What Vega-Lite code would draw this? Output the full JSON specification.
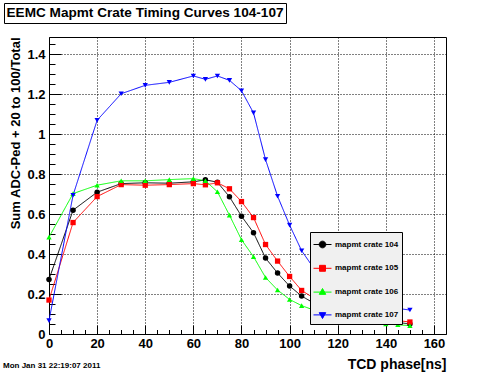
{
  "$schema": "https://vega.github.io/schema/vega-lite/v6.json",
  "width": 397,
  "height": 297,
  "autosize": "none",
  "padding": {"left": 49, "top": 37, "right": 50, "bottom": 38},
  "background": "white",
  "data": {
    "values": [
      {"crate": "mapmt crate 104", "phase": 0, "value": 0.273},
      {"crate": "mapmt crate 104", "phase": 10, "value": 0.62},
      {"crate": "mapmt crate 104", "phase": 20, "value": 0.71},
      {"crate": "mapmt crate 104", "phase": 30, "value": 0.753},
      {"crate": "mapmt crate 104", "phase": 40, "value": 0.757},
      {"crate": "mapmt crate 104", "phase": 50, "value": 0.755},
      {"crate": "mapmt crate 104", "phase": 60, "value": 0.762},
      {"crate": "mapmt crate 104", "phase": 65, "value": 0.772},
      {"crate": "mapmt crate 104", "phase": 70, "value": 0.76},
      {"crate": "mapmt crate 104", "phase": 75, "value": 0.687},
      {"crate": "mapmt crate 104", "phase": 80, "value": 0.59},
      {"crate": "mapmt crate 104", "phase": 85, "value": 0.507},
      {"crate": "mapmt crate 104", "phase": 90, "value": 0.38},
      {"crate": "mapmt crate 104", "phase": 95, "value": 0.305},
      {"crate": "mapmt crate 104", "phase": 100, "value": 0.24},
      {"crate": "mapmt crate 104", "phase": 105, "value": 0.19},
      {"crate": "mapmt crate 104", "phase": 110, "value": 0.155},
      {"crate": "mapmt crate 104", "phase": 115, "value": 0.13},
      {"crate": "mapmt crate 104", "phase": 120, "value": 0.11},
      {"crate": "mapmt crate 104", "phase": 125, "value": 0.095},
      {"crate": "mapmt crate 104", "phase": 130, "value": 0.083},
      {"crate": "mapmt crate 104", "phase": 135, "value": 0.073},
      {"crate": "mapmt crate 104", "phase": 140, "value": 0.065},
      {"crate": "mapmt crate 104", "phase": 145, "value": 0.058},
      {"crate": "mapmt crate 104", "phase": 150, "value": 0.05},
      {"crate": "mapmt crate 105", "phase": 0, "value": 0.17},
      {"crate": "mapmt crate 105", "phase": 10, "value": 0.558},
      {"crate": "mapmt crate 105", "phase": 20, "value": 0.688},
      {"crate": "mapmt crate 105", "phase": 30, "value": 0.748},
      {"crate": "mapmt crate 105", "phase": 40, "value": 0.745},
      {"crate": "mapmt crate 105", "phase": 50, "value": 0.748},
      {"crate": "mapmt crate 105", "phase": 60, "value": 0.753},
      {"crate": "mapmt crate 105", "phase": 65, "value": 0.747},
      {"crate": "mapmt crate 105", "phase": 70, "value": 0.757},
      {"crate": "mapmt crate 105", "phase": 75, "value": 0.727},
      {"crate": "mapmt crate 105", "phase": 80, "value": 0.663},
      {"crate": "mapmt crate 105", "phase": 85, "value": 0.583},
      {"crate": "mapmt crate 105", "phase": 90, "value": 0.448},
      {"crate": "mapmt crate 105", "phase": 95, "value": 0.365},
      {"crate": "mapmt crate 105", "phase": 100, "value": 0.288},
      {"crate": "mapmt crate 105", "phase": 105, "value": 0.218},
      {"crate": "mapmt crate 105", "phase": 110, "value": 0.18},
      {"crate": "mapmt crate 105", "phase": 115, "value": 0.15},
      {"crate": "mapmt crate 105", "phase": 120, "value": 0.125},
      {"crate": "mapmt crate 105", "phase": 125, "value": 0.107},
      {"crate": "mapmt crate 105", "phase": 130, "value": 0.093},
      {"crate": "mapmt crate 105", "phase": 135, "value": 0.082},
      {"crate": "mapmt crate 105", "phase": 140, "value": 0.074},
      {"crate": "mapmt crate 105", "phase": 145, "value": 0.067},
      {"crate": "mapmt crate 105", "phase": 150, "value": 0.06},
      {"crate": "mapmt crate 106", "phase": 0, "value": 0.485},
      {"crate": "mapmt crate 106", "phase": 10, "value": 0.703},
      {"crate": "mapmt crate 106", "phase": 20, "value": 0.745},
      {"crate": "mapmt crate 106", "phase": 30, "value": 0.767},
      {"crate": "mapmt crate 106", "phase": 40, "value": 0.767},
      {"crate": "mapmt crate 106", "phase": 50, "value": 0.773},
      {"crate": "mapmt crate 106", "phase": 60, "value": 0.778},
      {"crate": "mapmt crate 106", "phase": 65, "value": 0.767},
      {"crate": "mapmt crate 106", "phase": 70, "value": 0.712},
      {"crate": "mapmt crate 106", "phase": 75, "value": 0.595},
      {"crate": "mapmt crate 106", "phase": 80, "value": 0.472},
      {"crate": "mapmt crate 106", "phase": 85, "value": 0.387},
      {"crate": "mapmt crate 106", "phase": 90, "value": 0.283},
      {"crate": "mapmt crate 106", "phase": 95, "value": 0.22},
      {"crate": "mapmt crate 106", "phase": 100, "value": 0.173},
      {"crate": "mapmt crate 106", "phase": 105, "value": 0.142},
      {"crate": "mapmt crate 106", "phase": 110, "value": 0.12},
      {"crate": "mapmt crate 106", "phase": 115, "value": 0.1},
      {"crate": "mapmt crate 106", "phase": 120, "value": 0.085},
      {"crate": "mapmt crate 106", "phase": 125, "value": 0.073},
      {"crate": "mapmt crate 106", "phase": 130, "value": 0.063},
      {"crate": "mapmt crate 106", "phase": 135, "value": 0.056},
      {"crate": "mapmt crate 106", "phase": 140, "value": 0.05},
      {"crate": "mapmt crate 106", "phase": 145, "value": 0.046},
      {"crate": "mapmt crate 106", "phase": 150, "value": 0.042},
      {"crate": "mapmt crate 107", "phase": 0, "value": 0.067},
      {"crate": "mapmt crate 107", "phase": 10, "value": 0.695},
      {"crate": "mapmt crate 107", "phase": 20, "value": 1.07},
      {"crate": "mapmt crate 107", "phase": 30, "value": 1.203},
      {"crate": "mapmt crate 107", "phase": 40, "value": 1.245},
      {"crate": "mapmt crate 107", "phase": 50, "value": 1.26},
      {"crate": "mapmt crate 107", "phase": 60, "value": 1.292},
      {"crate": "mapmt crate 107", "phase": 65, "value": 1.275},
      {"crate": "mapmt crate 107", "phase": 70, "value": 1.292},
      {"crate": "mapmt crate 107", "phase": 75, "value": 1.27},
      {"crate": "mapmt crate 107", "phase": 80, "value": 1.218},
      {"crate": "mapmt crate 107", "phase": 85, "value": 1.107},
      {"crate": "mapmt crate 107", "phase": 90, "value": 0.873},
      {"crate": "mapmt crate 107", "phase": 95, "value": 0.69},
      {"crate": "mapmt crate 107", "phase": 100, "value": 0.545},
      {"crate": "mapmt crate 107", "phase": 105, "value": 0.417},
      {"crate": "mapmt crate 107", "phase": 110, "value": 0.33},
      {"crate": "mapmt crate 107", "phase": 115, "value": 0.27},
      {"crate": "mapmt crate 107", "phase": 120, "value": 0.225},
      {"crate": "mapmt crate 107", "phase": 125, "value": 0.19},
      {"crate": "mapmt crate 107", "phase": 130, "value": 0.165},
      {"crate": "mapmt crate 107", "phase": 135, "value": 0.15},
      {"crate": "mapmt crate 107", "phase": 140, "value": 0.138},
      {"crate": "mapmt crate 107", "phase": 145, "value": 0.128},
      {"crate": "mapmt crate 107", "phase": 150, "value": 0.12}
    ]
  },
  "encoding": {
    "x": {
      "field": "phase",
      "type": "quantitative",
      "scale": {"domain": [0, 165], "nice": false, "zero": false},
      "axis": {
        "title": "TCD phase[ns]",
        "titleFontSize": 14,
        "titleAnchor": "end",
        "titlePadding": 3,
        "values": [0,5,10,15,20,25,30,35,40,45,50,55,60,65,70,75,80,85,90,95,100,105,110,115,120,125,130,135,140,145,150,155,160],
        "labelExpr": "datum.value % 20 == 0 ? datum.label : ''",
        "gridOpacity": {"condition": {"test": "datum.value % 20 == 0", "value": 1}, "value": 0},
        "tickSize": {"condition": {"test": "datum.value % 20 == 0", "value": -9}, "value": -4.5},
        "labelPadding": 12
      }
    },
    "y": {
      "field": "value",
      "type": "quantitative",
      "scale": {"domain": [0, 1.487], "nice": false, "zero": false},
      "axis": {
        "title": "Sum ADC-Ped + 20 to 100/Total",
        "titleFontSize": 13,
        "titleAnchor": "end",
        "titlePadding": 4,
        "values": [0,0.05,0.1,0.15,0.2,0.25,0.3,0.35,0.4,0.45,0.5,0.55,0.6,0.65,0.7,0.75,0.8,0.85,0.9,0.95,1,1.05,1.1,1.15,1.2,1.25,1.3,1.35,1.4,1.45],
        "labelExpr": "round(datum.value*100) % 20 == 0 ? format(datum.value, '~g') : ''",
        "gridOpacity": {"condition": {"test": "round(datum.value*100) % 20 == 0", "value": 1}, "value": 0},
        "tickSize": {"condition": {"test": "round(datum.value*100) % 20 == 0", "value": -12}, "value": -6},
        "labelPadding": 16
      }
    },
    "color": {
      "field": "crate",
      "type": "nominal",
      "scale": {
        "domain": ["mapmt crate 104", "mapmt crate 105", "mapmt crate 106", "mapmt crate 107"],
        "range": ["#000000", "#ff0000", "#00ff00", "#0000ff"]
      },
      "legend": {
        "orient": "none",
        "legendX": 261,
        "legendY": 195,
        "title": null,
        "fillColor": "#f0f0f0",
        "strokeColor": "black",
        "padding": 3,
        "rowPadding": 8.8,
        "labelFont": "Liberation Sans",
        "labelFontSize": 8,
        "labelFontWeight": "bold",
        "labelColor": "black",
        "labelOffset": 3,
        "symbolSize": 324,
        "symbolStrokeWidth": 1,
        "labelExpr": "datum.label + '        '",
        "encode": {
          "symbols": {
            "update": {
              "shape": {"signal": "datum.value == 'mapmt crate 104' ? 'M-1,0H1M0.37,0A0.37,0.37,0,1,1,-0.37,0A0.37,0.37,0,1,1,0.37,0Z' : datum.value == 'mapmt crate 105' ? 'M-1,0H1M-0.33,-0.33H0.33V0.33H-0.33Z' : datum.value == 'mapmt crate 106' ? 'M-1,0H1M0,-0.4L0.36,0.25H-0.36Z' : 'M-1,0H1M0,0.4L0.36,-0.25H-0.36Z'"},
              "fill": {"signal": "scale('color', datum.value)"},
              "stroke": {"signal": "scale('color', datum.value)"},
              "strokeWidth": {"value": 1},
              "size": {"value": 324},
              "opacity": {"value": 1}
            }
          }
        }
      }
    }
  },
  "layer": [
    {
      "mark": {"type": "line", "strokeWidth": 1},
      "encoding": {
        "strokeDash": {
          "datum": "all",
          "type": "nominal",
          "scale": {"range": [[1, 0]]},
          "legend": {
            "orient": "none",
            "legendX": -46,
            "legendY": 325,
            "title": "Mon Jan 31 22:19:07 2011",
            "titleFont": "Liberation Sans",
            "titleFontSize": 8,
            "titleFontWeight": "bold",
            "titleColor": "black",
            "titlePadding": 0,
            "titleLimit": 300,
            "padding": 0,
            "labelExpr": "''",
            "labelFontSize": 1,
            "symbolOpacity": 0,
            "symbolStrokeWidth": 0,
            "symbolSize": 1
          }
        },
        "strokeWidth": {
          "datum": "one",
          "type": "ordinal",
          "scale": {"range": [1, 1]},
          "legend": {
            "orient": "none",
            "legendX": -45,
            "legendY": -34,
            "title": "\u00a0\u00a0\u00a0EEMC Mapmt Crate Timing Curves 104-107\u00a0\u00a0\u00a0",
            "titleFont": "Liberation Sans",
            "titleFontSize": 13.6,
            "titleFontWeight": "bold",
            "titleColor": "black",
            "titlePadding": 0,
            "titleLimit": 400,
            "padding": 2.5,
            "fillColor": "white",
            "strokeColor": "black",
            "labelExpr": "''",
            "labelFontSize": 1,
            "symbolOpacity": 0,
            "symbolStrokeWidth": 0,
            "symbolSize": 1
          }
        }
      }
    },
    {
      "transform": [{"filter": "datum.crate == 'mapmt crate 104'"}],
      "mark": {"type": "point", "shape": "circle", "filled": true, "size": 30, "opacity": 1, "strokeWidth": 0}
    },
    {
      "transform": [{"filter": "datum.crate == 'mapmt crate 105'"}],
      "mark": {"type": "point", "shape": "square", "filled": true, "size": 28, "opacity": 1, "strokeWidth": 0}
    },
    {
      "transform": [{"filter": "datum.crate == 'mapmt crate 106'"}],
      "mark": {"type": "point", "shape": "triangle-up", "filled": true, "size": 28, "opacity": 1, "strokeWidth": 0}
    },
    {
      "transform": [{"filter": "datum.crate == 'mapmt crate 107'"}],
      "mark": {"type": "point", "shape": "triangle-down", "filled": true, "size": 28, "opacity": 1, "strokeWidth": 0}
    }
  ],
  "config": {
    "view": {"stroke": "black", "strokeWidth": 1},
    "axis": {
      "domain": false,
      "grid": true,
      "gridColor": "black",
      "gridDash": [1, 2],
      "gridWidth": 1,
      "ticks": true,
      "tickColor": "black",
      "tickWidth": 1,
      "labelFont": "Liberation Sans",
      "labelFontSize": 13,
      "labelFontWeight": "bold",
      "labelColor": "black",
      "labelFlush": false,
      "labelOverlap": false,
      "titleFont": "Liberation Sans",
      "titleFontWeight": "bold",
      "titleColor": "black"
    }
  }
}
